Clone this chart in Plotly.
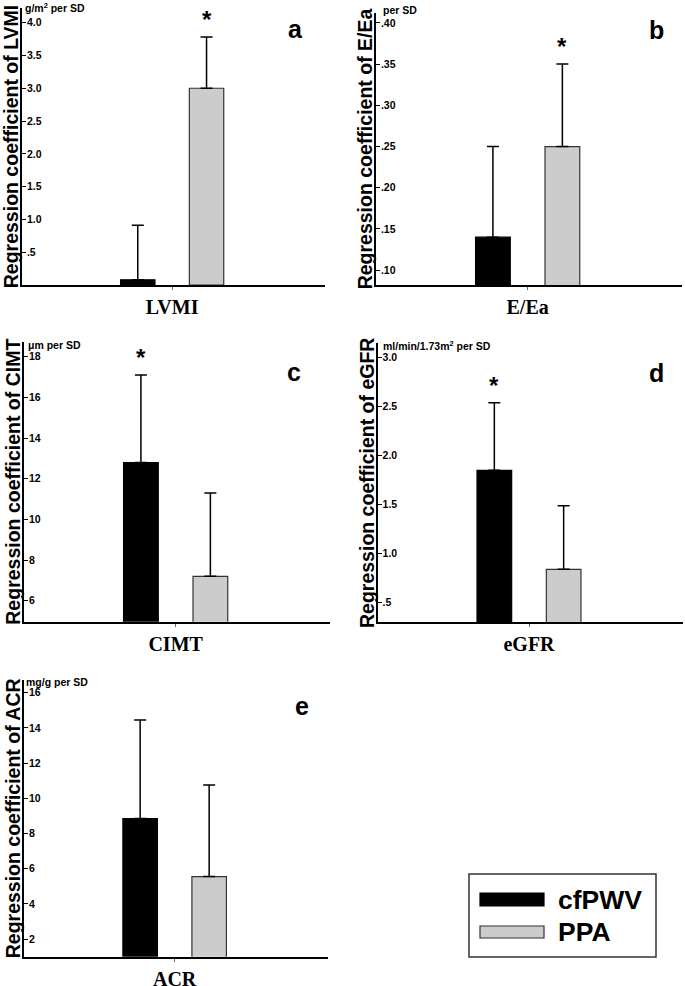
import plotly.graph_objects as go

# ---------------- data ----------------
categories = ["LVMI", "E/Ea", "CIMT", "eGFR", "ACR"]
series_names = ["cfPWV", "PPA"]
cfpwv_values = [0.08, 0.14, 12.8, 1.85, 8.85]
cfpwv_errors = [0.83, 0.11, 4.3, 0.69, 5.6]
ppa_values = [3.0, 0.25, 7.2, 0.84, 5.55]
ppa_errors = [0.78, 0.10, 4.1, 0.65, 5.2]
significant = ["PPA", "PPA", "cfPWV", "cfPWV", None]
panel_letters = ["a", "b", "c", "d", "e"]
unit_labels = ["g/m<sup>2</sup> per SD", "per SD", "\u03bcm per SD",
               "ml/min/1.73m<sup>2</sup> per SD", "mg/g per SD"]
y_titles = ["Regression coefficient of " + c for c in categories]
y_ranges = [[0.0, 4.224], [0.082, 0.412], [4.97, 18.74], [0.3, 3.146], [1.0, 16.72]]
y_tickvals = [
    [0.5, 1.0, 1.5, 2.0, 2.5, 3.0, 3.5, 4.0],
    [0.10, 0.15, 0.20, 0.25, 0.30, 0.35, 0.40],
    [6, 8, 10, 12, 14, 16, 18],
    [0.5, 1.0, 1.5, 2.0, 2.5, 3.0],
    [2, 4, 6, 8, 10, 12, 14, 16],
]
y_ticktext = [
    [".5", "1.0", "1.5", "2.0", "2.5", "3.0", "3.5", "4.0"],
    [".10", ".15", ".20", ".25", ".30", ".35", ".40"],
    ["6", "8", "10", "12", "14", "16", "18"],
    [".5", "1.0", "1.5", "2.0", "2.5", "3.0"],
    ["2", "4", "6", "8", "10", "12", "14", "16"],
]
bar_positions = [-0.5, 0.5]

# ---------------- layout / style ----------------
W, H = 685, 986
# panel boxes in pixels: (left, right, top, bottom)
boxes = [(22, 325, 8, 285), (376, 682, 13, 285), (24, 330, 341.7, 621.7),
         (377.7, 683, 343.3, 622.3), (24, 328, 680, 956.7)]
letter_pos = [(295.5, 29), (656.5, 30), (293.5, 372), (656.5, 373), (301.5, 706)]
unit_pos = [(23, 7), (381, 10), (26, 345), (381, 345), (24, 682)]
colors = ["#000000", "#cccccc"]
outline = ["#000000", "#333333"]
SANS = "Liberation Sans, Arial, sans-serif"
SERIF = "Liberation Serif, Times New Roman, serif"


def px(x):
    return x / W


def py(y):
    return 1 - y / H


fig = go.Figure()
annotations = []
layout_axes = {}
series_values = [cfpwv_values, ppa_values]
series_errors = [cfpwv_errors, ppa_errors]

for i, cat in enumerate(categories):
    n = i + 1
    xa, ya = f"x{n}", f"y{n}"
    l, r, t, b = boxes[i]
    for s, name in enumerate(series_names):
        val = series_values[s][i]
        err = series_errors[s][i]
        fig.add_trace(go.Bar(
            x=[bar_positions[s]], y=[val], width=0.5, name=name,
            marker=dict(color=colors[s], line=dict(color=outline[s], width=1.2)),
            error_y=dict(type="data", symmetric=False, array=[err], arrayminus=[0],
                         color="black", thickness=1.5, width=6),
            xaxis=xa, yaxis=ya, showlegend=False, hoverinfo="skip",
        ))
        if significant[i] == name:
            annotations.append(dict(
                x=bar_positions[s], y=val + err, xref=xa, yref=ya,
                text="*", showarrow=False, yanchor="bottom", yshift=2,
                font=dict(family=SANS, size=24, color="black", weight="bold"),
            ))
    layout_axes[f"xaxis{n}"] = dict(
        domain=[px(l), px(r)], range=[-2.183, 2.222], anchor=ya,
        tickvals=[0], ticktext=[cat], ticks="outside", ticklen=3, tickwidth=1,
        tickcolor="#666666", showline=True, linecolor="black", linewidth=2,
        showgrid=False, zeroline=False, ticklabelstandoff=0, automargin=False,
        tickfont=dict(family=SERIF, size=20, color="black", weight="bold"),
        fixedrange=True,
    )
    layout_axes[f"yaxis{n}"] = dict(
        domain=[py(b), py(t)], range=y_ranges[i], anchor=xa,
        tickvals=y_tickvals[i], ticktext=y_ticktext[i], ticks="inside",
        ticklen=4, tickwidth=1, tickcolor="black", ticklabelposition="inside",
        showline=True, linecolor="black", linewidth=2, showgrid=False,
        zeroline=False, automargin=False,
        tickfont=dict(family=SANS, size=10.5, color="black", weight="bold"),
        title=dict(text=y_titles[i], standoff=3,
                   font=dict(family=SANS, size=19.5, color="black", weight="bold")),
        fixedrange=True,
    )
    annotations.append(dict(
        x=px(letter_pos[i][0]), y=py(letter_pos[i][1]), xref="paper", yref="paper",
        text=panel_letters[i], showarrow=False, xanchor="center", yanchor="middle",
        font=dict(family=SANS, size=25, color="black", weight="bold"),
    ))
    annotations.append(dict(
        x=px(unit_pos[i][0]), y=py(unit_pos[i][1]), xref="paper", yref="paper",
        text=unit_labels[i], showarrow=False, xanchor="left", yanchor="middle",
        font=dict(family=SANS, size=10.5, color="black", weight="bold"),
    ))

# legend drawn as shapes + text
shapes = [
    dict(type="rect", xref="paper", yref="paper", x0=px(469), x1=px(656),
         y0=py(957), y1=py(874), line=dict(color="#333333", width=1.5),
         fillcolor="white"),
]
legend_rows = [(893, 906), (926, 938)]
for s, name in enumerate(series_names):
    y0, y1 = legend_rows[s]
    shapes.append(dict(type="rect", xref="paper", yref="paper", x0=px(480), x1=px(544),
                       y0=py(y1), y1=py(y0), fillcolor=colors[s],
                       line=dict(color=outline[s], width=1.2)))
    annotations.append(dict(
        x=px(556), y=py((y0 + y1) / 2), xref="paper", yref="paper", text=name,
        showarrow=False, xanchor="left", yanchor="middle",
        font=dict(family=SANS, size=26.5, color="black", weight="bold"),
    ))

fig.update_layout(
    width=W, height=H, margin=dict(l=0, r=0, t=0, b=0),
    paper_bgcolor="white", plot_bgcolor="white",
    barmode="overlay", showlegend=False,
    annotations=annotations, shapes=shapes, **layout_axes,
)
fig.write_html("out.html", config={"displayModeBar": False},
               post_script="document.body.style.margin='0';")
